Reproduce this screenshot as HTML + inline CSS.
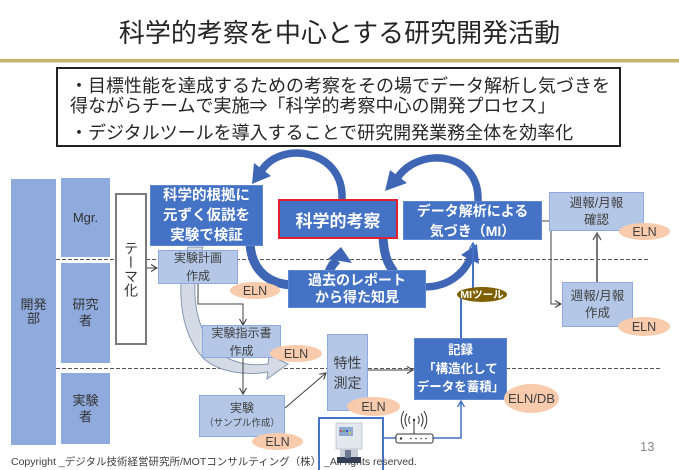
<!DOCTYPE html>
<html><head><meta charset="utf-8">
<style>
*{margin:0;padding:0;box-sizing:border-box}
body{width:679px;height:470px;overflow:hidden;background:#fff;position:relative;font-family:"Liberation Sans","Noto Sans CJK JP",sans-serif;color:#262626}
.a{position:absolute;white-space:nowrap}
.c{position:absolute;display:flex;flex-direction:column;align-items:center;justify-content:center;text-align:center;white-space:nowrap}
.dk{background:#4472C4;color:#fff;font-weight:bold;border:1px solid #5f86cf}
.lt{background:#B4C7E7;border:1px solid #8FAADC;color:#404040;font-size:12px}
.side{background:#8FAADC;color:#333;font-size:13px}
.eln{position:absolute;background:#F8CBAD;border-radius:50%;display:flex;align-items:center;justify-content:center;font-size:12.5px;color:#404040}
svg{position:absolute;left:0;top:0}
</style></head><body>

<svg width="679" height="470" viewBox="0 0 679 470">
<defs>
<marker id="ag" markerWidth="10" markerHeight="10" refX="8" refY="5" orient="auto" markerUnits="userSpaceOnUse"><path d="M2,1.5 L8,5 L2,8.5" fill="none" stroke="#404040" stroke-width="1.1"/></marker>
<marker id="ag2" markerWidth="12" markerHeight="12" refX="9" refY="6" orient="auto" markerUnits="userSpaceOnUse"><path d="M2,2 L9,6 L2,10" fill="none" stroke="#666" stroke-width="1.4"/></marker>
<marker id="ab" markerWidth="10" markerHeight="10" refX="8" refY="5" orient="auto" markerUnits="userSpaceOnUse"><path d="M2,1.5 L8,5 L2,8.5" fill="none" stroke="#4472C4" stroke-width="1.4"/></marker>
</defs>
<!-- gold rule -->
<rect x="0" y="59" width="679" height="3.5" fill="#C6B46A"/>
<!-- dashed swimlane lines -->
<line x1="56" y1="259.5" x2="650" y2="259.5" stroke="#555" stroke-width="1" stroke-dasharray="4 2"/>
<line x1="56" y1="368.5" x2="660" y2="368.5" stroke="#555" stroke-width="1" stroke-dasharray="4 2"/>

<!-- gray curved arrow -->
<path d="M188,247 C176,282 178,330 203,358 C218,372 245,376 268,372 L267,379 L288,364 L269,355 L268,364 C246,367 228,361 216,350 C198,332 186,292 203,247 Z" fill="#D5DBE6" stroke="#8497B0" stroke-width="1"/>

<!-- blue curved arrows -->
<g fill="none" stroke="#3E66B4" stroke-linecap="butt">
<path d="M342,199 C344,150 282,140 262,170" stroke-width="7.5"/>
<path d="M478,201 C480,152 420,146 398,177" stroke-width="7.5"/>
<path d="M250,244 C252,272 270,284 292,285" stroke-width="9"/>
<path d="M329,272 C331,266 334,263 337,260" stroke-width="9"/>
<path d="M383,237 C384,256 388,264 394,272" stroke-width="9"/>
<path d="M424,287 C450,287 464,272 470,259" stroke-width="7.5"/>
</g>
<g fill="#3E66B4">
<polygon points="252,184 271,176 254,163"/>
<polygon points="385,191 407,183 390,170"/>
<polygon points="341,247 352,263 328,259"/>
<polygon points="477,244 479,264 461,255"/>
</g>

<!-- blue MI lines -->
<line x1="473" y1="292" x2="473" y2="243" stroke="#4472C4" stroke-width="2" marker-end="url(#ab)"/>
<line x1="461" y1="338" x2="461" y2="298" stroke="#4472C4" stroke-width="2"/>
<polyline points="383,438 396,438" fill="none" stroke="#4472C4" stroke-width="1.5"/>
<polyline points="433,438 461,438 461,401" fill="none" stroke="#4472C4" stroke-width="1.5" marker-end="url(#ab)"/>

<!-- gray connectors -->
<g fill="none" stroke="#404040" stroke-width="1">
<polyline points="198,284 198,304 243,304 243,325" marker-end="url(#ag)"/>
<line x1="243" y1="358" x2="243" y2="394" marker-end="url(#ag)"/>
<line x1="285" y1="408" x2="326" y2="373" marker-end="url(#ag)"/>
<line x1="368" y1="370" x2="413" y2="370" marker-end="url(#ag)"/>
<line x1="147" y1="268" x2="157" y2="268" marker-end="url(#ag)"/>
<polyline points="542,221 551,221 551,304 561,304" marker-end="url(#ag)"/>
</g>
<line x1="597" y1="282" x2="597" y2="233" stroke="#777" stroke-width="2" marker-end="url(#ag2)"/>

<!-- equipment image -->
<rect x="319" y="418" width="64" height="56" fill="#fff" stroke="#4472C4" stroke-width="2"/>
<rect x="336" y="423" width="26" height="26" fill="#E3E7EE" stroke="#B8C0CC" stroke-width="0.8"/>
<rect x="339" y="427" width="14" height="9" fill="#8FA8CF"/>
<circle cx="341" cy="431" r="1" fill="#d33"/><circle cx="344" cy="431" r="1" fill="#3a3"/><circle cx="347" cy="431" r="1" fill="#33c"/><circle cx="350" cy="433" r="1" fill="#dd3"/>
<rect x="340" y="449" width="18" height="8" fill="#C9CFD9"/>
<rect x="337" y="457" width="24" height="6" fill="#2F3E5E"/>
<rect x="345" y="450" width="6" height="8" fill="#6b7890"/>

<!-- router + wifi -->
<rect x="396" y="434" width="37" height="9" rx="2" fill="#fff" stroke="#333" stroke-width="1"/>
<circle cx="401" cy="438.5" r="1.2" fill="#333"/>
<circle cx="411" cy="438.5" r="0.8" fill="#333"/><circle cx="416" cy="438.5" r="0.8" fill="#333"/><circle cx="421" cy="438.5" r="0.8" fill="#333"/><circle cx="426" cy="438.5" r="0.8" fill="#333"/>
<line x1="414" y1="434" x2="414" y2="420" stroke="#333" stroke-width="1"/>
<circle cx="414" cy="420" r="1.2" fill="#333"/>
<g fill="none" stroke="#333" stroke-width="1">
<path d="M410,416 Q407.5,420 410,424"/><path d="M418,416 Q420.5,420 418,424"/>
<path d="M407,413.5 Q403,420 407,426.5"/><path d="M421,413.5 Q425,420 421,426.5"/>
<path d="M404,411 Q398.5,420 404,429"/><path d="M424,411 Q429.5,420 424,429"/>
</g>
</svg>

<!-- title -->
<div class="a" style="left:0;width:679px;top:18px;text-align:center;font-size:26px;line-height:31px;color:#262626">科学的考察を中心とする研究開発活動</div>

<!-- header box -->
<div class="a" style="left:56px;top:67px;width:565px;height:80px;border:2px solid #222;background:#fff"></div>
<div class="a" style="left:70px;top:76px;font-size:18px;line-height:20px">・目標性能を達成するための考察をその場でデータ解析し気づきを</div>
<div class="a" style="left:70px;top:96px;font-size:18px;line-height:20px">得ながらチームで実施⇒「科学的考察中心の開発プロセス」</div>
<div class="a" style="left:70px;top:123px;font-size:18px;line-height:20px">・デジタルツールを導入することで研究開発業務全体を効率化</div>

<!-- lanes -->
<div class="c side" style="left:11px;top:179px;width:45px;height:266px;line-height:14px">開発<br>部</div>
<div class="c side" style="left:61px;top:178px;width:49px;height:79px">Mgr.</div>
<div class="c side" style="left:61px;top:263px;width:49px;height:100px;line-height:16px">研究<br>者</div>
<div class="c side" style="left:61px;top:373px;width:49px;height:71px;line-height:16px">実験<br>者</div>
<div class="c" style="left:115px;top:193px;width:32px;height:152px;border:2px solid #7a7a7a;background:#fff;font-size:14px;color:#333"><span style="writing-mode:vertical-rl;line-height:16px">テーマ化</span></div>

<!-- dark boxes -->
<div class="c dk" style="left:150px;top:185px;width:113px;height:61px;font-size:14.5px;line-height:20px">科学的根拠に<br>元ずく仮説を<br>実験で検証</div>
<div class="c dk" style="left:278px;top:199px;width:120px;height:40px;font-size:17px;border:2px solid #E0202E">科学的考察</div>
<div class="c dk" style="left:288px;top:270px;width:138px;height:38px;font-size:14px;line-height:17px">過去のレポート<br>から得た知見</div>
<div class="c dk" style="left:403px;top:201px;width:139px;height:39px;font-size:14px;line-height:20px">データ解析による<br>気づき（MI）</div>
<div class="c dk" style="left:414px;top:338px;width:93px;height:62px;font-size:12.5px;line-height:18.5px">記録<br>「構造化して<br>データを蓄積」</div>

<!-- light boxes -->
<div class="c lt" style="left:158px;top:250px;width:80px;height:34px;line-height:18px">実験計画<br>作成</div>
<div class="c lt" style="left:549px;top:192px;width:95px;height:39px;line-height:17px;font-size:12.5px">週報/月報<br>確認</div>
<div class="c lt" style="left:562px;top:282px;width:71px;height:45px;line-height:17px;font-size:12.5px">週報/月報<br>作成</div>
<div class="c lt" style="left:202px;top:325px;width:79px;height:33px;line-height:18px">実験指示書<br>作成</div>
<div class="c lt" style="left:199px;top:395px;width:86px;height:42px;line-height:15px"><span>実験</span><span style="font-size:9.5px">（サンプル作成）</span></div>
<div class="c lt" style="left:327px;top:334px;width:41px;height:77px;font-size:14px;line-height:20px">特性<br>測定</div>

<!-- ELN tags -->
<div class="eln" style="left:230px;top:282px;width:50px;height:17px">ELN</div>
<div class="eln" style="left:619px;top:223px;width:51px;height:17px">ELN</div>
<div class="eln" style="left:618px;top:317px;width:52px;height:19px">ELN</div>
<div class="eln" style="left:270px;top:345px;width:52px;height:17px">ELN</div>
<div class="eln" style="left:252px;top:433px;width:51px;height:17px">ELN</div>
<div class="eln" style="left:347px;top:397px;width:53px;height:19px">ELN</div>
<div class="eln" style="left:504px;top:384px;width:55px;height:29px;font-size:13px">ELN/DB</div>
<div class="eln" style="left:457px;top:287px;width:50px;height:15px;background:#7F6000;color:#fff;font-weight:bold;font-size:10.5px">MIツール</div>

<!-- footer -->
<div class="a" style="left:11px;top:455px;font-size:10.5px;line-height:14px;color:#404040">Copyright _デジタル技術経営研究所/MOTコンサルティング（株） _All rights reserved.</div>
<div class="a" style="left:640px;top:439px;font-size:13px;line-height:16px;color:#888">13</div>
</body></html>
